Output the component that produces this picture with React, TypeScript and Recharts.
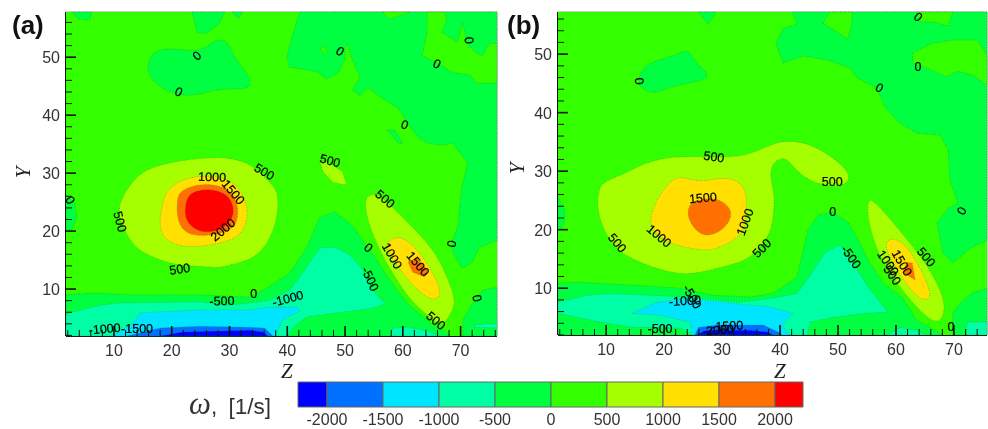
import { Bar, BarChart, ReferenceLine, Scatter, ScatterChart, XAxis, YAxis } from 'recharts'

type Pt = number[]

// colour of each contour band, low to high
const DEEP = '#0000ff'
const BLUE = '#0070ff'
const CYAN = '#00e5ff'
const TEAL = '#00ffa5'
const DARK = '#00ff40'
const BRIGHT = '#33ff00'
const LIME = '#a5ff00'
const YELLOW = '#ffe000'
const ORANGE = '#ff7000'
const RED = '#ff0000'

// colour bar
const barColors = [DEEP, BLUE, CYAN, TEAL, DARK, BRIGHT, LIME, YELLOW, ORANGE, RED]
const barWidths = [259, 500, 500, 500, 500, 500, 500, 500, 500, 250]
const barTicks = [-2000, -1500, -1000, -500, 0, 500, 1000, 1500, 2000]

const xTicksA = [2, 4, 6, 8, 10, 12, 14, 16, 18, 20, 22, 24, 26, 28, 30, 32, 34, 36, 38, 40, 42, 44, 46, 48, 50, 52, 54, 56, 58, 60, 62, 64, 66, 68, 70, 72, 74, 76]
const xTicksB = xTicksA.slice(0, -1)
const yTicks = [2, 4, 6, 8, 10, 12, 14, 16, 18, 20, 22, 24, 26, 28, 30, 32, 34, 36, 38, 40, 42, 44, 46, 48, 50, 52, 54, 56]

// panel (a) contours, [z, y]
const aDarkTop = [[42.2,57.8],[41.7,56.4],[40.8,53.4],[39.9,50],[40.4,48.3],[43,47.9],[45.3,47.4],[46.7,46.2],[48.8,47.2],[50,49.8],[50,51.7],[50.3,52.4],[51.3,49.5],[52.6,46.6],[51.3,44.3],[52.6,43.4],[54,44.8],[56.4,42.9],[59.2,41.2],[60.7,38.8],[62.6,36.2],[64.2,35.2],[66.9,34.8],[68.6,35.2],[71.2,31.7],[70.2,27.6],[69.9,24.8],[69.5,20.7],[68.6,18.4],[68.5,16.7],[70.2,13.6],[71.9,14.5],[73.3,17.2],[76.3,18.4],[76.3,57.8]]
const aBrightCorner = [[64.2,57.8],[64.2,54.1],[63.3,50.3],[65.9,49],[68.6,47.4],[71.6,46.9],[72.8,45.5],[76.3,45.5],[76.3,52.4],[75,52.4],[73.8,50.3],[72.8,50.7],[71.1,52.4],[70.4,55.9],[69.5,52.6],[66.7,54.3],[67.6,56.4],[67.3,57.8]]
const aBrightNotch = [[56.5,57.8],[57.7,56.6],[61.2,57.8]]
const aBrightSpot = [[45.7,51.5],[46.4,50.5],[46.9,50.9],[46.3,52]]
const aDarkTop1 = [[2.7,57.8],[3.8,56.6],[5.8,56.4],[6.2,57.8]]
const aDarkTop2 = [[23.5,57.8],[24.4,54.3],[26.1,54.1],[28.3,55.9],[29.2,57.8]]
const aDarkTop3 = [[30.4,57.8],[31.5,56.7],[32.3,57.8]]
const aDarkLobe = [[15.7,48.3],[16.6,51.2],[20.2,51.6],[23.7,50.9],[26.1,51.7],[28,53.4],[30.1,52.4],[30.6,50],[33.9,46.4],[33.5,44.3],[29.6,44.7],[26.1,44],[22.6,43.1],[18.5,44.3],[16.2,46.4]]
const aDarkLeft = [[1.7,26.2],[3.2,24.8],[3.6,22.4],[2.7,20.2],[1.7,20.2]]
const aDarkSliver = [[57.4,37.4],[58.6,37.4],[60,35.2],[59.2,35.2]]
const aDarkBottom = [[1.7,9],[6.4,9.3],[13.3,9],[24.9,9],[33.5,8.6],[36.5,10.2],[40.4,12.8],[43.4,17.2],[45.6,22.4],[48.2,23.3],[51.3,21],[53.4,17.9],[55.5,15],[57.7,11.6],[60.7,7.6],[63.5,5.2],[64.7,4.1],[67.6,2.6],[68.1,1.9],[1.7,1.9]]
const aDarkRight = [[70.4,1.9],[70.4,4.7],[72.1,7.6],[73.8,9.8],[76.3,10.3],[76.3,1.9]]
const aTeal = [[1.7,5.5],[2.4,5.9],[7.1,7.1],[10.5,7.6],[24.9,7.8],[29.6,7.2],[33.5,7.6],[37,8.1],[40.4,9.8],[43,13.3],[45.6,17.1],[48.2,17.2],[50.8,15.9],[53.1,13.3],[54.8,9.8],[56.9,7.4],[54.8,6.7],[49.6,6],[43.4,5.2],[41,3.4],[40.1,1.9],[1.7,1.9]]
const aTeal2 = [[57.7,1.9],[58.3,3.3],[60.7,3.4],[64.2,2.9],[66.1,1.9]]
const aTeal3 = [[72.4,3.8],[76.3,4.1],[76.3,3.3],[72.4,3.4]]
const aCyan = [[9.8,1.9],[13.3,4.1],[14.5,5.9],[24.9,6.4],[33.5,6.4],[37,6.9],[41.7,6.9],[42.2,6.2],[39.2,4.7],[37.9,1.9]]
const aBlue = [[12.3,1.9],[18,3.3],[24.9,3.6],[33.5,3.4],[36.1,3.3],[37.5,1.9]]
const aDeep = [[18,1.9],[21.9,2.6],[33.5,2.9],[35.8,2.6],[36.6,1.9]]
const a500 = [[10.5,23.1],[11.4,25.9],[13.1,28.4],[15,30.5],[19.7,31.9],[24.9,32.6],[29.6,32.8],[33.5,31.7],[35.3,30],[37.9,27.6],[38.4,25.9],[38.4,23.1],[37.5,19.7],[35.8,16.7],[33.5,15],[29.6,14],[27.8,13.6],[24.9,14],[21.4,14],[18,15],[14.5,16.4],[12.4,18.8]]
const a1000 = [[17.6,20.5],[18.5,25.3],[19.2,27.1],[21.4,28.8],[25.4,29.7],[29.6,29.1],[31.8,27.4],[33.2,24.1],[33,21.6],[31.8,18.8],[27.1,17.6],[22.6,17.1],[19.2,18.1]]
const a1500 = [[20.9,25.3],[21.4,27.1],[25.4,28.4],[30.1,27.4],[31.5,24.8],[31.5,21.4],[29.6,19.7],[24.9,19],[21.9,19.8],[20.9,22.4]]
const a2000 = [[22.3,24.1],[22.8,26.6],[26.1,27.4],[29.6,26.6],[30.9,24],[30.4,21.6],[27.8,19.8],[24.4,19.8],[22.3,21.9]]
const a500Patch = [[45.6,32.2],[47.4,31.7],[49.6,30.2],[50.3,27.9],[47.9,28.4],[46.2,30.2]]
const a500Right = [[53.4,25.3],[54,26.2],[55.7,26.6],[58.3,24],[61.7,20.7],[65.9,16.2],[68.1,11],[69.3,7.6],[68.1,5.5],[66.9,3.4],[64.2,5.5],[61.2,8.1],[58.1,12.8],[55.7,17.2],[53.8,21.9]]
const a1000Right = [[57.2,18.1],[59,19.3],[61.7,17.9],[64.7,13.8],[67.1,9],[65.2,7.8],[62.4,9.8],[59.5,13.3],[57.2,16.7]]
const a1500Right = [[60.9,14.7],[62.4,15.3],[64.3,13.3],[63.8,12.1],[61.7,12.9]]

// panel (b) contours, [z, y]
const bDarkTop = [[42.1,57.2],[42.9,55.1],[40.5,54.4],[39.3,51.9],[40.5,48.5],[44,49.7],[48.1,49],[52.1,47.6],[53.3,45.9],[56.7,44.2],[58.1,40.9],[60.7,38.2],[63.6,36.5],[67.6,36.2],[69,33.6],[69.3,28.5],[70.7,24.5],[69,23.7],[67.1,21.1],[68.1,16],[69.8,14.3],[72.8,16.8],[75.7,18.2],[75.7,57.2]]
const bBright1 = [[47.4,55.3],[48.6,57.2],[52.4,57.2],[52.4,55.3],[51.7,52.6],[49.8,53.8]]
const bBright2 = [[63.6,57.2],[64.1,55.5],[66.7,55.5],[69,54.8],[69.8,57.2]]
const bBright3 = [[62.9,50.2],[66.4,51.9],[69.8,52.4],[74,52.4],[75.7,49.8],[75.7,44.7],[73.3,46.4],[70.5,47.1],[68.8,46.1],[65.3,47.6],[62.9,48.5]]
const bDarkNick = [[25.9,57.2],[27.6,55.1],[29,57.2]]
const bDarkLobe = [[16.4,48.1],[19.3,49],[23.1,50.3],[24.1,51],[25.7,48.1],[28.3,46.2],[25.7,45.2],[21.6,44.7],[18.8,43.2],[16.4,43.8],[15.3,45.2]]
const bDarkLeft = [[1.7,25.6],[2.9,23.3],[2.9,21.6],[2.1,19.9],[1.7,19.9]]
const bDarkBottom = [[1.7,10.9],[5.5,11],[14.7,10.5],[22.8,10],[28.4,8.8],[34.8,8.5],[38.8,9.1],[42.9,11.9],[44.8,19.9],[46.6,22.5],[49,23],[51.7,21.3],[53.4,18.5],[55.2,14.8],[57.8,10.9],[61.2,8.3],[63.6,4.5],[65.9,3.3],[68.1,2],[1.7,2]]
const bDarkRight = [[69.8,2],[69.8,5.7],[71,7.4],[73.3,9.3],[75.7,10],[75.7,2]]
const bTeal = [[1.7,7.6],[6.7,8.8],[10.7,9.1],[17.6,8.8],[24,8.5],[33.1,7.6],[38.8,8.3],[42.9,9.1],[45.2,12.2],[47.8,16.2],[50.3,17.4],[52.6,14.3],[55.2,10.2],[58.6,5.9],[55,5.7],[49.1,5],[45.2,4.2],[44.7,2],[24.8,2],[22.8,3.2],[14.7,3.3],[9,4.2],[1.7,5.7]]
const bTeal2 = [[58.4,2],[60.7,3.3],[63.6,2.8],[65.3,2]]
const bTeal3 = [[72.2,2],[72.2,4.2],[75.7,4.2],[75.7,2]]
const bCyan = [[14.5,5.7],[18.8,7.6],[24,8.3],[34.8,7.1],[38.3,6.8],[42.2,5.7],[40.3,3.7],[41.7,2],[24.8,2],[24.5,4.2],[19.3,5.4]]
const bBlue = [[25.3,2],[25.9,3.3],[29.1,3.7],[34.8,3.7],[37.1,3.7],[39.7,2.5],[40.3,2]]
const bDeep = [[25.5,2],[27.4,2.8],[34.8,2.8],[37.8,2.5],[38.8,2]]
const b500 = [[8.8,26.8],[9.3,28.1],[13.6,29.7],[16.4,31.4],[21.6,32.6],[27.4,32.4],[33.1,32.4],[36.6,33.6],[40,35.3],[44.7,35],[49.1,32.4],[52.2,29.7],[51.7,27.3],[46,27.6],[42.6,30.2],[40.9,32.7],[38.6,31.4],[38.3,29.3],[38.8,27.1],[39.1,24.5],[38.6,19.9],[37.1,17.7],[34.8,14.8],[29.1,13.4],[24,12.1],[19.3,13.1],[14.7,14.8],[11.2,17],[9,21.1],[8.4,24.5]]
const b1000 = [[19.8,26.8],[21.6,28.8],[23.3,29],[26.2,28.1],[29.1,28.8],[31.9,28.8],[34,27.3],[34.3,24.2],[34,20.8],[33.1,18.7],[28.4,16.2],[24.5,16.8],[20.5,17.7],[17.2,20.3],[18.1,23.8]]
const b1500 = [[24.1,23.7],[25,25],[29.1,25.6],[31.4,23.8],[31.7,22.1],[30.2,19.9],[27.4,18.7],[25.3,19.9],[24.1,22]]
const b500Right = [[55,25],[55.9,25.4],[60.2,20.4],[65.3,14.3],[69,7.4],[67.6,3.7],[65.3,5],[62.4,7.9],[57.2,14.8],[55.2,21.1]]
const b1000Right = [[58.1,18.2],[60.2,18.7],[62.9,16],[66.7,8.5],[64.7,7.6],[61.9,10.2],[58.4,16]]
const b1500Right = [[61.9,14.4],[62.8,14.3],[63.3,11.4],[61.2,12.7]]

// contour labels: [z, y, tilt], one list per level text
const aLabels: [string, number[][]][] = [
    ['0', [[24.4,50.2,-40],[21.2,44,25],[49.1,51,35],[65.9,48.8,25],[71.4,52.9,85],[60.3,38.3,20],[34.2,9.1,0],[2.4,25.3,60],[54,17.1,40],[68.5,17.8,-80],[72.8,8.4,80]]],
    ['500', [[36,30.2,30],[47.4,32.1,15],[11,21.6,75],[21.4,13.4,-8],[56.9,25.5,40],[65.7,4.5,40]]],
    ['1000', [[27,29.3,2],[58.1,15.7,60]]],
    ['1500', [[30.6,26.7,50],[62.6,14.3,50]]],
    ['2000', [[28.9,20.2,-40]]],
    ['-500', [[28.7,7.9,-2],[54.3,11.7,65]]],
    ['-1000', [[8.4,3.1,-5],[40.1,8.3,-15]]],
    ['-1500', [[14,3.1,0]]],
]
const bLabels: [string, number[][]][] = [
    ['0', [[15.7,45.4,85],[63.8,56.3,40],[63.8,47.8,0],[57.1,44.2,30],[49.1,23,0],[71.4,23.2,-60],[69.5,3.3,0]]],
    ['500', [[28.6,32.4,8],[49,28.1,0],[11.9,17.7,50],[36.9,16.8,-45],[59.3,12.2,55],[65.2,15.3,50]]],
    ['1000', [[19.1,18.9,40],[34,21.3,-70],[58.6,14.3,55]]],
    ['1500', [[26.7,25.4,-5],[61,14.3,60]]],
    ['-500', [[19.3,3,0],[24.8,8.5,60],[52.2,15.3,55]]],
    ['-1000', [[23.6,7.8,-3]]],
    ['-1500', [[30.9,3.5,-3]]],
    ['-2000', [[29.3,2.8,-5]]],
]

// third item: round the outline (only for shapes that do not touch the frame)
const layersA: [Pt[], string, boolean?][] = [
    [aDarkTop, DARK], [aBrightCorner, BRIGHT], [aBrightNotch, BRIGHT], [aBrightSpot, BRIGHT],
    [aDarkTop1, DARK], [aDarkTop2, DARK], [aDarkTop3, DARK], [aDarkLobe, DARK, true], [aDarkLeft, DARK], [aDarkSliver, DARK],
    [aDarkBottom, DARK], [aDarkRight, DARK], [aTeal, TEAL], [aTeal2, TEAL], [aTeal3, TEAL], [aCyan, CYAN], [aBlue, BLUE], [aDeep, DEEP],
    [a500, LIME, true], [a1000, YELLOW, true], [a1500, ORANGE, true], [a2000, RED, true], [a500Patch, LIME], [a500Right, LIME, true], [a1000Right, YELLOW, true], [a1500Right, ORANGE],
]
const layersB: [Pt[], string, boolean?][] = [
    [bDarkTop, DARK], [bBright1, BRIGHT], [bBright2, BRIGHT], [bBright3, BRIGHT], [bDarkNick, DARK], [bDarkLobe, DARK, true], [bDarkLeft, DARK],
    [bDarkBottom, DARK], [bDarkRight, DARK], [bTeal, TEAL], [bTeal2, TEAL], [bTeal3, TEAL], [bCyan, CYAN], [bBlue, BLUE], [bDeep, DEEP],
    [b500, LIME, true], [b1000, YELLOW, true], [b1500, ORANGE, true], [b500Right, LIME, true], [b1000Right, YELLOW, true], [b1500Right, ORANGE],
]

const SANS = '"Liberation Sans", Arial, sans-serif'
const SERIF = '"Liberation Serif", "Times New Roman", serif'

const XTick = ({ x, y, payload }: any) => {
    const major = payload.value % 10 === 0
    return (
        <g>
            <line x1={x} x2={x} y1={y} y2={y - (major ? 10 : 6)} stroke="#111" strokeWidth={major ? 1.6 : 1} />
            {major && (
                <text x={x} y={y + 20} textAnchor="middle" fontSize={16} fontFamily={SANS} fill="#333">
                    {payload.value}
                </text>
            )}
        </g>
    )
}

const YTick = ({ x, y, payload }: any) => {
    const major = payload.value % 10 === 0
    return (
        <g>
            <line x1={x} x2={x + (major ? 10 : 6)} y1={y} y2={y} stroke="#111" strokeWidth={major ? 1.6 : 1} />
            {major && (
                <text x={x - 6} y={y + 6} textAnchor="end" fontSize={16} fontFamily={SANS} fill="#333">
                    {payload.value}
                </text>
            )}
        </g>
    )
}

const noDot = () => <g />

const ContourLabel = ({ cx, cy, payload }: any) => (
    <text
        x={cx}
        y={cy}
        dy={4}
        textAnchor="middle"
        fontSize={12.5}
        fontFamily={SANS}
        fill="#000"
        stroke="#000"
        strokeWidth={0.2}
        transform={`rotate(${payload.tilt} ${cx} ${cy})`}
    >
        {payload.text}
    </text>
)

type PanelProps = {
    left: number
    width: number
    marginLeft: number
    axisHeight: number
    xDomain: number[]
    yDomain: number[]
    xTicks: number[]
    layers: [Pt[], string, boolean?][]
    labels: [string, number[][]][]
}

const Panel = ({ left, width, marginLeft, axisHeight, xDomain, yDomain, xTicks, layers, labels }: PanelProps) => (
    <div style={{ position: 'absolute', left, top: 0 }}>
        <ScatterChart width={width} height={370} margin={{ top: 12, right: 1, bottom: 0, left: marginLeft - 1 }}>
            <Scatter
                data={[
                    { z: xDomain[0], y: yDomain[0] },
                    { z: xDomain[1], y: yDomain[0] },
                    { z: xDomain[1], y: yDomain[1] },
                    { z: xDomain[0], y: yDomain[1] },
                ]}
                line={{ fill: BRIGHT, fillOpacity: 1, stroke: 'none' }}
                lineJointType="linearClosed"
                shape={noDot}
                isAnimationActive={false}
            />
            {layers.map(([points, color, smooth], i) => (
                <Scatter
                    key={i}
                    data={points.map(([z, y]) => ({ z, y }))}
                    line={{ fill: color, fillOpacity: 1, stroke: '#1f7f2a', strokeWidth: 0.8, strokeDasharray: '1 1.6', strokeOpacity: 0.55 }}
                    lineJointType={smooth ? 'basisClosed' : 'linearClosed'}
                    shape={noDot}
                    isAnimationActive={false}
                />
            ))}
            {labels.map(([text, spots]) => (
                <Scatter
                    key={text}
                    data={spots.map(([z, y, tilt]) => ({ z, y, tilt, text }))}
                    shape={ContourLabel}
                    isAnimationActive={false}
                />
            ))}
            <ReferenceLine x={xDomain[1]} stroke="#999" strokeWidth={1} />
            <ReferenceLine y={yDomain[1]} stroke="#999" strokeWidth={1} />
            <XAxis
                dataKey="z"
                type="number"
                domain={xDomain}
                ticks={xTicks}
                interval={0}
                height={axisHeight}
                tickSize={0}
                tickMargin={0}
                tick={XTick}
                axisLine={{ stroke: '#111', strokeWidth: 2 }}
            />
            <YAxis
                dataKey="y"
                type="number"
                domain={yDomain}
                ticks={yTicks}
                interval={0}
                width={1}
                tickSize={0}
                tickMargin={0}
                tick={YTick}
                axisLine={{ stroke: '#111', strokeWidth: 2 }}
            />
        </ScatterChart>
    </div>
)

const Note = ({ left, top, style, children }: any) => (
    <div style={{ position: 'absolute', left, top, lineHeight: 1, whiteSpace: 'nowrap', color: '#222', ...style }}>{children}</div>
)

const axisName = { fontFamily: SERIF, fontStyle: 'italic', fontSize: 21 }
const panelName = { fontFamily: SANS, fontWeight: 700, fontSize: 26, color: '#111' }

const barRow: Record<string, number | string> = { name: 'omega', start: -2259 }
barWidths.forEach((w, i) => {
    barRow[`band${i}`] = w
})

export default function App() {
    return (
        <div style={{ position: 'absolute', left: 0, top: 0, width: 988, height: 429, background: '#fff', overflow: 'hidden', filter: 'blur(0.4px)' }}>
            <Panel
                left={0}
                width={498}
                marginLeft={66}
                axisHeight={34}
                xDomain={[1.7, 76.3]}
                yDomain={[1.9, 57.8]}
                xTicks={xTicksA}
                layers={layersA}
                labels={aLabels}
            />
            <Panel
                left={500}
                width={488}
                marginLeft={58}
                axisHeight={35}
                xDomain={[1.7, 75.7]}
                yDomain={[2, 57.2]}
                xTicks={xTicksB}
                layers={layersB}
                labels={bLabels}
            />
            <Note left={12} top={12} style={panelName}>(a)</Note>
            <Note left={507} top={12} style={panelName}>(b)</Note>
            <Note left={18} top={162} style={{ ...axisName, transform: 'rotate(-90deg)' }}>Y</Note>
            <Note left={512} top={158} style={{ ...axisName, transform: 'rotate(-90deg)' }}>Y</Note>
            <Note left={281} top={361} style={axisName}>Z</Note>
            <Note left={774} top={361} style={axisName}>Z</Note>
            <Note left={189} top={388} style={{ fontFamily: SANS, fontSize: 22.5, color: '#333', wordSpacing: 5 }}>
                <span style={{ fontFamily: SERIF, fontSize: 31, fontStyle: 'italic' }}>ω</span>, [1/s]
            </Note>
            <div style={{ position: 'absolute', left: 0, top: 370 }}>
                <BarChart
                    layout="vertical"
                    width={988}
                    height={59}
                    data={[barRow]}
                    barCategoryGap={0}
                    margin={{ top: 12, right: 185, bottom: 0, left: 298 }}
                >
                    <XAxis
                        type="number"
                        domain={[-2259, 2250]}
                        ticks={barTicks}
                        interval={0}
                        height={22}
                        axisLine={false}
                        tickLine={false}
                        tickMargin={1}
                        tick={{ fontSize: 16, fontFamily: SANS, fill: '#333' }}
                    />
                    <YAxis type="category" dataKey="name" hide />
                    <Bar dataKey="start" stackId="omega" fill="none" stroke="none" isAnimationActive={false} />
                    {barColors.map((color, i) => (
                        <Bar key={i} dataKey={`band${i}`} stackId="omega" fill={color} stroke="#666" strokeWidth={1} isAnimationActive={false} />
                    ))}
                </BarChart>
            </div>
        </div>
    )
}
